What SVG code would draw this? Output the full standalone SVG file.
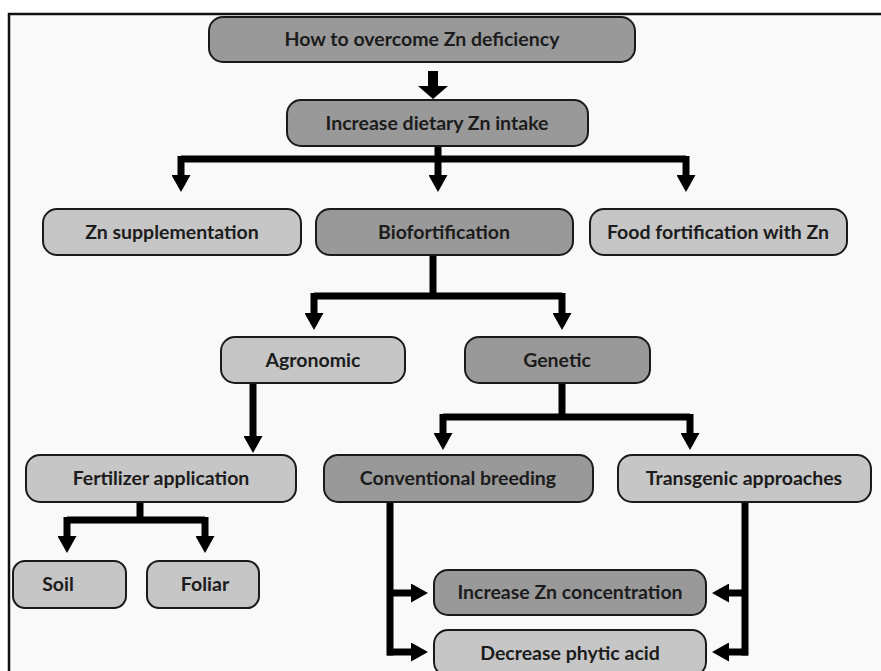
<svg xmlns="http://www.w3.org/2000/svg" width="881" height="671" viewBox="0 0 881 671">
<style>
.dk{fill:#999999;stroke:#1a1a1a;stroke-width:2}
.lt{fill:#c6c6c6;stroke:#1a1a1a;stroke-width:2}
text{font-family:Lato,"Open Sans","Liberation Sans",sans-serif;font-weight:bold;font-size:19.5px;fill:#1c1c1c;text-anchor:middle}
.c{fill:none;stroke:#000;stroke-width:7;stroke-linejoin:miter}
.a{marker-end:url(#ah)}
</style>
<defs>
<marker id="ah" markerUnits="userSpaceOnUse" markerWidth="17" markerHeight="19" refX="6" refY="9.5" orient="auto">
<path d="M0,0 L17,9.5 L0,19 z" fill="#000"/>
</marker>
</defs>
<rect x="0" y="0" width="881" height="671" fill="#ffffff"/>
<rect x="9" y="14" width="900" height="700" fill="#f9f9f9" stroke="#111" stroke-width="2.5"/>

<g id="connectors">
<polygon points="428,71 438,71 438,86 448,86 433,99 418,86 428,86" fill="#000"/>
<path class="c" d="M438,146 V159"/>
<path class="c" d="M181,159 H686"/>
<path class="c a" d="M181,156 V181"/>
<path class="c a" d="M438,156 V181"/>
<path class="c a" d="M686,156 V181"/>
<path class="c" d="M433,255 V296"/>
<path class="c" d="M314,296 H562"/>
<path class="c a" d="M314,293 V319"/>
<path class="c a" d="M562,293 V319"/>
<path class="c a" d="M253,383 V442"/>
<path class="c" d="M562,383 V417"/>
<path class="c" d="M443,417 H690"/>
<path class="c a" d="M443,414 V439"/>
<path class="c a" d="M690,414 V439"/>
<path class="c" d="M140,502 V520"/>
<path class="c" d="M67,520 H205"/>
<path class="c a" d="M67,517 V542"/>
<path class="c a" d="M205,517 V542"/>
<path class="c" d="M390,502 V655.5"/>
<path class="c a" d="M387,593 H417"/>
<path class="c a" d="M387,652 H417"/>
<path class="c" d="M745,502 V655.5"/>
<path class="c a" d="M748,593 H723"/>
<path class="c a" d="M748,652 H723"/>
</g>

<g id="n1"><rect class="dk" x="209" y="17" width="426" height="45" rx="14"/><text x="422" y="46">How to overcome Zn deficiency</text></g>
<g id="n2"><rect class="dk" x="287" y="100" width="301" height="46" rx="14"/><text x="437" y="129.5">Increase dietary Zn intake</text></g>
<g id="n3"><rect class="lt" x="43" y="209" width="258" height="46" rx="14"/><text x="172" y="238.5">Zn supplementation</text></g>
<g id="n4"><rect class="dk" x="316" y="209" width="257" height="46" rx="14"/><text x="444" y="238.5">Biofortification</text></g>
<g id="n5"><rect class="lt" x="590" y="209" width="257" height="46" rx="14"/><text x="718" y="238.5">Food fortification with Zn</text></g>
<g id="n6"><rect class="lt" x="221" y="337" width="184" height="46" rx="14"/><text x="313" y="366.5">Agronomic</text></g>
<g id="n7"><rect class="dk" x="465" y="337" width="185" height="46" rx="14"/><text x="557" y="366.5">Genetic</text></g>
<g id="n8"><rect class="lt" x="26" y="455" width="270" height="47" rx="14"/><text x="161" y="485">Fertilizer application</text></g>
<g id="n9"><rect class="dk" x="324" y="455" width="269" height="47" rx="14"/><text x="458" y="485">Conventional breeding</text></g>
<g id="n10"><rect class="lt" x="618" y="455" width="253" height="47" rx="14"/><text x="744" y="485">Transgenic approaches</text></g>
<g id="n11"><rect class="lt" x="13" y="561" width="113" height="47" rx="12"/><text x="58" y="591">Soil</text></g>
<g id="n12"><rect class="lt" x="147" y="561" width="112" height="47" rx="12"/><text x="205" y="591">Foliar</text></g>
<g id="n13"><rect class="dk" x="434" y="570" width="272" height="45" rx="14"/><text x="570" y="599">Increase Zn concentration</text></g>
<g id="n14"><rect class="lt" x="434" y="630" width="272" height="46" rx="14"/><text x="570" y="659.5">Decrease phytic acid</text></g>
</svg>
